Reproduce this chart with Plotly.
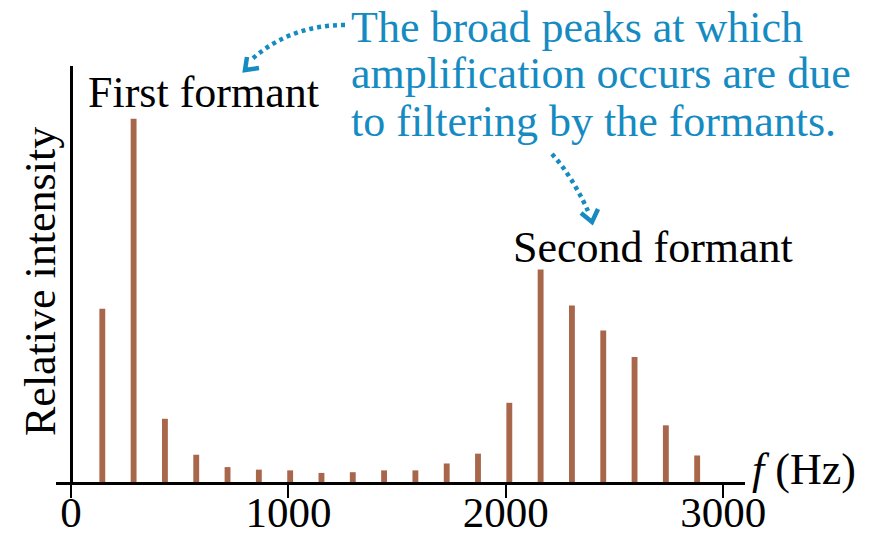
import plotly.graph_objects as go

# Harmonic spectrum of a sung vowel: harmonic frequencies (Hz) and relative intensities
harmonic_hz = [144, 288, 432, 576, 720, 864, 1008, 1152, 1296, 1440,
               1584, 1728, 1872, 2016, 2160, 2304, 2448, 2592, 2736, 2880]
intensity = [47.7, 100.0, 17.4, 7.5, 4.1, 3.4, 3.2, 2.5, 2.7, 3.2,
             3.2, 5.1, 7.8, 21.8, 58.5, 48.6, 41.7, 34.4, 15.6, 7.3]

tick_vals = [0, 1000, 2000, 3000]
tick_text = ["0", "1000", "2000", "3000"]

W, H = 873, 537
SERIF = "Liberation Serif, Times New Roman, serif"
FS = 44
BLUE = "#168bc2"
BAR = "#a8674b"


def px(x):
    return x / W


def py(y):
    return 1 - y / H


fig = go.Figure()
fig.add_trace(go.Bar(
    x=harmonic_hz, y=intensity, width=27,
    marker=dict(color=BAR, line=dict(width=0)),
    hoverinfo="x+y",
))

fig.update_layout(
    width=W, height=H,
    margin=dict(l=0, r=0, t=0, b=0, autoexpand=False),
    paper_bgcolor="white", plot_bgcolor="white",
    showlegend=False,
    xaxis=dict(
        domain=[px(56), px(745)], range=[-69, 3100], automargin=False,
        tickvals=tick_vals, ticktext=tick_text,
        ticks="outside", ticklen=13, tickwidth=2.2, tickcolor="black",
        ticklabelstandoff=-22,
        tickfont=dict(family=SERIF, size=43, color="black"),
        showline=True, linecolor="black", linewidth=2.6,
        zeroline=True, zerolinecolor="black", zerolinewidth=2.6,
        showgrid=False,
    ),
    yaxis=dict(
        domain=[py(482), py(66)], range=[0, 114.5], automargin=False,
        showticklabels=False, showgrid=False, zeroline=False, showline=False,
        ticks="",
    ),
)

ann = []
# axis titles
ann.append(dict(text="Relative intensity", x=px(40), y=py(282), textangle=-90,
                xanchor="center", font=dict(family=SERIF, size=FS, color="black")))
ann.append(dict(text="<i>f</i> (Hz)", x=px(750), y=py(469), xanchor="left",
                font=dict(family=SERIF, size=FS, color="black")))
# formant labels
ann.append(dict(text="First formant", x=px(86), y=py(93), xanchor="left",
                font=dict(family=SERIF, size=FS, color="black")))
ann.append(dict(text="Second formant", x=px(511), y=py(248), xanchor="left",
                font=dict(family=SERIF, size=FS, color="black")))
# explanatory note, one line per annotation
note_lines = ["The broad peaks at which",
              "amplification occurs are due",
              "to filtering by the formants."]
for i, line in enumerate(note_lines):
    ann.append(dict(text=line, x=px(349), y=py(27 + 47 * i), xanchor="left",
                    font=dict(family=SERIF, size=FS, color=BLUE)))
for a in ann:
    a.update(xref="paper", yref="paper", showarrow=False, yanchor="middle")
fig.update_layout(annotations=ann)


def path_px(cmds):
    out = []
    for c in cmds:
        if isinstance(c, str):
            out.append(c)
        else:
            out.append(f"{px(c[0]):.5f},{py(c[1]):.5f}")
    return " ".join(out)


shapes = [
    # dotted curve toward the first formant
    dict(type="path", path=path_px(["M", (345, 25), "Q", (290, 25), (251, 60)]),
         line=dict(color=BLUE, width=4.5, dash="4px,4px")),
    dict(type="path", path=path_px(["M", (247, 57), "L", (245, 70), "L", (259, 68)]),
         line=dict(color=BLUE, width=4.5)),
    # dotted curve toward the second formant
    dict(type="path", path=path_px(["M", (552, 154), "Q", (572, 176), (588, 211)]),
         line=dict(color=BLUE, width=4.5, dash="4px,4px")),
    dict(type="path", path=path_px(["M", (581, 213), "L", (592, 222), "L", (598, 209)]),
         line=dict(color=BLUE, width=4.5)),
]
for s in shapes:
    s.update(xref="paper", yref="paper")
fig.update_layout(shapes=shapes)

fig.write_html("out.html")
